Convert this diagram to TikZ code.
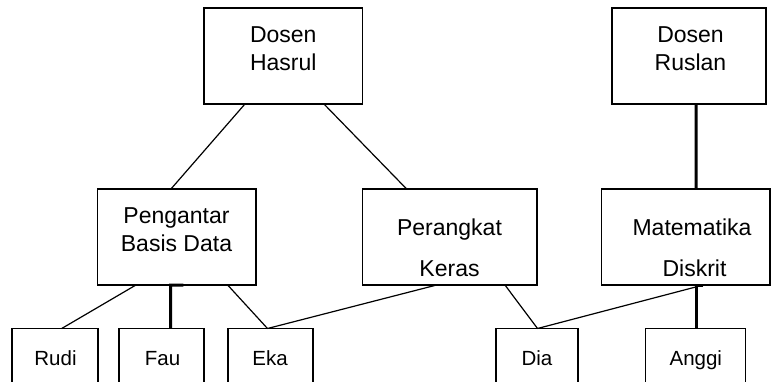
\documentclass[tikz,border=0pt]{standalone}
\usepackage{fontspec}
\setmainfont{Liberation Sans}
\begin{document}
\begin{tikzpicture}[x=1pt,y=-1pt,
  box/.style={draw, line width=1.2pt, minimum width=#1, minimum height=96pt,
              inner sep=0pt, outer sep=0pt},
  link/.style={line width=1.2pt},
  heavy/.style={line width=3pt},
  big/.style={font=\fontsize{23}{28}\selectfont, inner sep=0pt, anchor=base},
  small/.style={font=\fontsize{20.5}{24}\selectfont, inner sep=0pt, anchor=base}]
\useasboundingbox (0,0) rectangle (771,381);
\clip (0,0) rectangle (771,381);

% lecturers
\node[box=158.7pt] (hasrul) at (283.3,56) {};
\node[box=154pt]   (ruslan) at (689,56) {};
% courses
\node[box=158.3pt] (pbd) at (176.8,237) {};
\node[box=174.3pt] (pk)  at (449.8,237) {};
\node[box=168.3pt] (md)  at (685.85,237) {};
% students
\node[box=86pt]  (rudi)  at (55,376.5) {};
\node[box=85pt]  (fau)   at (161.5,376.5) {};
\node[box=85pt]  (eka)   at (270.5,376.5) {};
\node[box=82pt]  (dia)   at (537,376.5) {};
\node[box=100pt] (anggi) at (695.7,376.5) {};

% labels
\node[big] (hasrul1) at (283.3,42) {Dosen};
\node[big] (hasrul2) at (283.3,70) {Hasrul};
\node[big] (ruslan1) at (690.5,42) {Dosen};
\node[big] (ruslan2) at (690.5,70) {Ruslan};
\node[big] (pbd1) at (176.5,223.5) {Pengantar};
\node[big] (pbd2) at (176.5,251.5) {Basis Data};
\node[big] (pk1) at (449.5,235) {Perangkat};
\node[big] (pk2) at (449.5,276.7) {Keras};
\node[big] (md1) at (692,235) {Matematika};
\node[big] (md2) at (694.5,276.7) {Diskrit};
\node[small] (rudiT)  at (55.5,365.7) {Rudi};
\node[small] (fauT)   at (162.5,365.7) {Fau};
\node[small] (ekaT)   at (270,365.7) {Eka};
\node[small] (diaT)   at (537,365.7) {Dia};
\node[small] (anggiT) at (695.8,365.7) {Anggi};

% lecturer -- course
\draw[link] ([xshift=41pt]hasrul.south west) -- ([xshift=73.3pt]pbd.north west);
\draw[link] ([xshift=120pt]hasrul.south west) -- ([xshift=44pt]pk.north west);
\draw[heavy] ([xshift=7pt]ruslan.south) -- ([xshift=10.2pt]md.north);

% course -- student
\draw[link] ([xshift=38.3pt]pbd.south west) -- ([xshift=49.7pt]rudi.north west);
\draw[heavy] ([xshift=85.6pt]pbd.south west) -- ([xshift=73pt]pbd.south west)
             -- ([xshift=51.7pt]fau.north west);
\draw[link] ([xshift=130pt]pbd.south west) -- ([xshift=39.5pt]eka.north west);
\draw[link] ([xshift=74pt]pk.south west) -- ([xshift=39.5pt]eka.north west);
\draw[link] ([xshift=142.3pt]pk.south west) -- ([xshift=41.5pt]dia.north west);
\draw[link] ([xshift=101.6pt]md.south west) -- ([xshift=41.5pt]dia.north west);
\draw[heavy] ([xshift=101.6pt]md.south west) -- ([xshift=94.3pt]md.south west)
             -- ([xshift=50.3pt]anggi.north west);
\end{tikzpicture}
\end{document}
